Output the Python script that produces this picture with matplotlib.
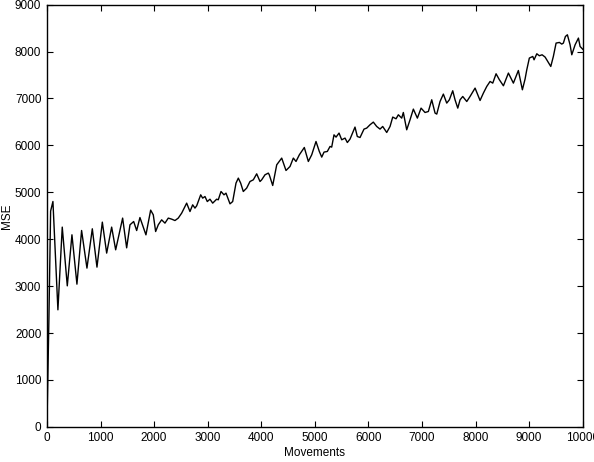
import matplotlib
matplotlib.use("Agg")
import matplotlib.pyplot as plt

# values (movements, MSE)
movements = [0, 37, 69, 112, 205, 286, 380, 467, 560, 647, 747, 847, 934, 1034, 1115,
             1208, 1283, 1413, 1488, 1550, 1619, 1675, 1736, 1848, 1936, 1985, 2029,
             2078, 2141, 2203, 2265, 2328, 2390, 2451, 2515, 2608, 2670, 2720, 2763,
             2795, 2870, 2907, 2950, 2993, 3043, 3094, 3168, 3198, 3249, 3305, 3342,
             3417, 3467, 3529, 3572, 3616, 3665, 3728, 3790, 3852, 3915, 3977, 4008,
             4070, 4132, 4150, 4214, 4289, 4382, 4462, 4537, 4599, 4649, 4711, 4804,
             4879, 4942, 5022, 5084, 5129, 5172, 5233, 5284, 5315, 5358, 5396, 5452,
             5502, 5564, 5607, 5657, 5750, 5793, 5844, 5918, 5968, 6030, 6092, 6155,
             6217, 6267, 6342, 6404, 6454, 6516, 6559, 6622, 6652, 6715, 6777, 6839,
             6914, 6983, 7057, 7119, 7182, 7244, 7276, 7337, 7399, 7462, 7511, 7574,
             7617, 7668, 7711, 7761, 7836, 7897, 7991, 8084, 8146, 8209, 8271, 8321,
             8383, 8445, 8520, 8613, 8706, 8799, 8874, 8924, 8956, 9004, 9068, 9092,
             9143, 9191, 9242, 9298, 9348, 9404, 9452, 9503, 9565, 9609, 9639, 9677,
             9714, 9764, 9796, 9858, 9920, 9951, 10000]
mse = [0, 2300, 4600, 4804, 2495, 4258, 3006, 4094, 3042, 4186, 3384, 4222, 3405, 4364, 3704,
       4258, 3774, 4450, 3816, 4307, 4377, 4185, 4462, 4093, 4620, 4520, 4164,
       4307, 4413, 4343, 4450, 4428, 4398, 4450, 4556, 4769, 4590, 4733, 4663,
       4712, 4946, 4876, 4910, 4803, 4853, 4769, 4853, 4840, 5017, 4946, 4982,
       4754, 4803, 5196, 5302, 5196, 5017, 5089, 5230, 5266, 5394, 5230, 5266,
       5373, 5409, 5373, 5145, 5586, 5729, 5465, 5550, 5729, 5657, 5799, 5955,
       5657, 5799, 6083, 5870, 5750, 5857, 5870, 5977, 5963, 6225, 6176, 6262,
       6119, 6155, 6061, 6134, 6390, 6189, 6168, 6347, 6368, 6439, 6496, 6403,
       6347, 6403, 6275, 6403, 6603, 6567, 6652, 6581, 6701, 6332, 6545, 6773,
       6581, 6794, 6701, 6722, 6972, 6688, 6667, 6935, 7093, 6901, 6972, 7164,
       6972, 6794, 6972, 7042, 6935, 7042, 7221, 6957, 7114, 7256, 7362, 7327,
       7526, 7398, 7270, 7541, 7327, 7596, 7185, 7413, 7611, 7861, 7895, 7824,
       7952, 7910, 7931, 7882, 7788, 7682, 7895, 8180, 8194, 8159, 8180, 8321,
       8357, 8144, 7931, 8144, 8287, 8108, 8050]

plt.rcParams['font.family'] = ['Liberation Sans', 'DejaVu Sans']

fig = plt.figure(figsize=(5.94, 4.62), dpi=100)
ax = fig.add_axes([0.079, 0.076, 0.902, 0.914])
ax.plot(movements, mse, color='black', lw=1.0)

ax.set_xlim(0, 10000)
ax.set_ylim(0, 9000)
ax.set_xticks(range(0, 10001, 1000))
ax.set_yticks(range(0, 9001, 1000))
ax.tick_params(direction='in', length=4, width=0.8, top=True, right=True,
               labelsize=8.5, pad=4)
for s in ax.spines.values():
    s.set_linewidth(1.0)
ax.set_xlabel('Movements', fontsize=8.5, labelpad=2)
ax.set_ylabel('MSE', fontsize=8.5, labelpad=1)

fig.savefig('out.png', dpi=100)
